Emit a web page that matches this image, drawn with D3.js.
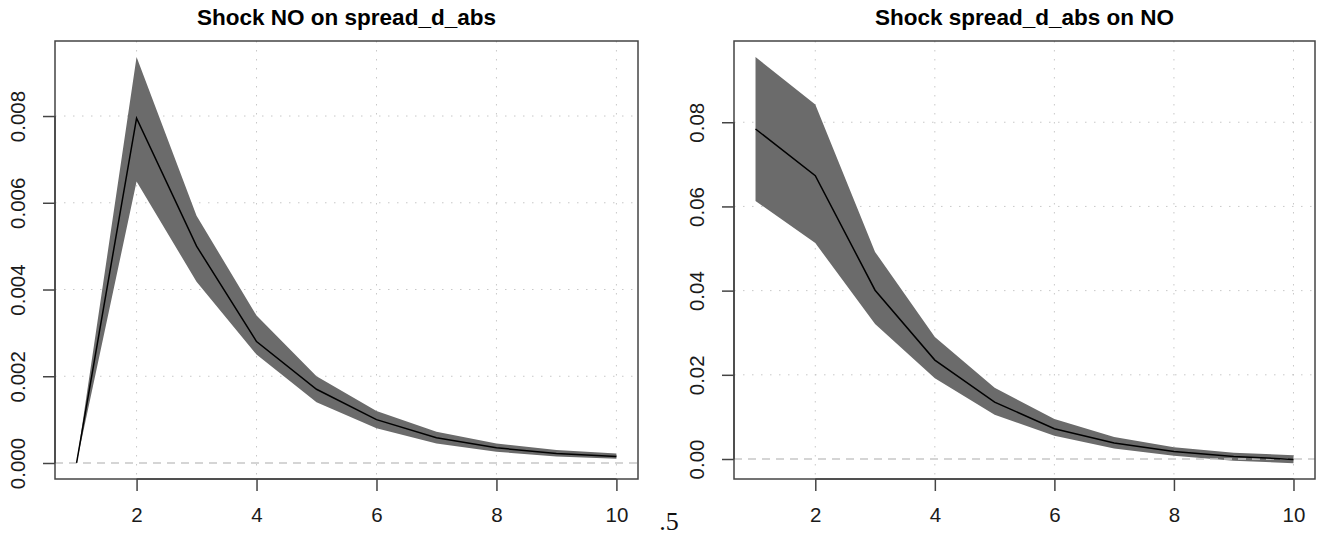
<!DOCTYPE html>
<html>
<head>
<meta charset="utf-8">
<script src="https://cdn.jsdelivr.net/npm/d3@7"></script>
<style>
  body { margin: 0; background: #fff; }
  svg { display: block; }
  .title { font-family: "Liberation Sans", Arial, sans-serif; font-weight: bold; font-size: 22.5px; }
  .tick-label { font-family: "Liberation Sans", Arial, sans-serif; font-size: 20.5px; fill: #1a1a1a; }
</style>
</head>
<body>
<svg id="chart"></svg>
<script>
const steps = [1, 2, 3, 4, 5, 6, 7, 8, 9, 10];

// Shock NO on spread_d_abs
const leftMid = [0, 0.00795, 0.0050, 0.0028, 0.0017, 0.0010, 0.00058, 0.00035, 0.00022, 0.00015];
const leftLower = [0, 0.00649, 0.00418, 0.0025, 0.0014, 0.0008, 0.00045, 0.00026, 0.00015, 0.0001];
const leftUpper = [0, 0.00936, 0.0057, 0.0034, 0.0020, 0.0012, 0.00072, 0.00045, 0.0003, 0.00022];
const leftYTicks = [0, 0.002, 0.004, 0.006, 0.008];

// Shock spread_d_abs on NO
const rightMid = [0.0784, 0.0673, 0.0401, 0.0235, 0.0135, 0.0072, 0.0038, 0.0018, 0.0006, -0.0001];
const rightLower = [0.0613, 0.0513, 0.0321, 0.0192, 0.0105, 0.0055, 0.0025, 0.0008, -0.0004, -0.0010];
const rightUpper = [0.0955, 0.0842, 0.0492, 0.029, 0.0169, 0.0095, 0.0052, 0.0028, 0.0015, 0.0009];
const rightYTicks = [0, 0.02, 0.04, 0.06, 0.08];

const xTicks = [2, 4, 6, 8, 10];

const width = 1325;
const height = 535;

const svg = d3.select("#chart").attr("width", width).attr("height", height);

function drawPanel(opts) {
  const { left, right, top, bottom, yDomain, mid, lower, upper, yTicks, yFormat, title, labelX } = opts;

  const x = d3.scaleLinear().domain([0.64, 10.36]).range([left, right]);
  const y = d3.scaleLinear().domain(yDomain).range([bottom, top]);

  const g = svg.append("g");

  // grid (dotted)
  g.selectAll(".vgrid")
    .data(xTicks)
    .enter()
    .append("line")
    .attr("x1", (d) => x(d))
    .attr("x2", (d) => x(d))
    .attr("y1", top)
    .attr("y2", bottom)
    .attr("stroke", "#c8c8c8")
    .attr("stroke-width", 1)
    .attr("stroke-dasharray", "1.5,7.5");

  g.selectAll(".hgrid")
    .data(yTicks.filter((d) => d !== 0))
    .enter()
    .append("line")
    .attr("x1", left)
    .attr("x2", right)
    .attr("y1", (d) => y(d))
    .attr("y2", (d) => y(d))
    .attr("stroke", "#c8c8c8")
    .attr("stroke-width", 1)
    .attr("stroke-dasharray", "1.5,7.5");

  // confidence band
  const band = d3
    .area()
    .x((d, i) => x(steps[i]))
    .y0((d, i) => y(lower[i]))
    .y1((d, i) => y(upper[i]));

  g.append("path").datum(mid).attr("d", band).attr("fill", "#6b6b6b");

  // zero line
  g.append("line")
    .attr("x1", left)
    .attr("x2", right)
    .attr("y1", y(0))
    .attr("y2", y(0))
    .attr("stroke", "#c8c8c8")
    .attr("stroke-width", 1.5)
    .attr("stroke-dasharray", "8,6");

  // response line
  const line = d3
    .line()
    .x((d, i) => x(steps[i]))
    .y((d) => y(d));

  g.append("path")
    .datum(mid)
    .attr("d", line)
    .attr("fill", "none")
    .attr("stroke", "#000")
    .attr("stroke-width", 1.5);

  // box
  g.append("rect")
    .attr("x", left)
    .attr("y", top)
    .attr("width", right - left)
    .attr("height", bottom - top)
    .attr("fill", "none")
    .attr("stroke", "#444")
    .attr("stroke-width", 1.5);

  // x axis
  const xAxis = d3.axisBottom(x).tickValues(xTicks).tickSize(12).tickPadding(16).tickFormat(d3.format("d"));
  const gx = g.append("g").attr("transform", `translate(0,${bottom})`).call(xAxis);
  gx.select(".domain")
    .attr("d", `M${x(xTicks[0])},0H${x(xTicks[xTicks.length - 1])}`)
    .attr("stroke", "#444")
    .attr("stroke-width", 1.5);
  gx.selectAll(".tick line").attr("stroke", "#444").attr("stroke-width", 1.5);
  gx.selectAll(".tick text")
    .attr("class", "tick-label")
    .attr("font-size", null)
    .attr("font-family", null)
    .attr("fill", "#1a1a1a");

  // y axis
  const yAxis = d3.axisLeft(y).tickValues(yTicks).tickSize(12).tickFormat(yFormat);
  const gy = g.append("g").attr("transform", `translate(${left},0)`).call(yAxis);
  gy.select(".domain")
    .attr("d", `M0,${y(yTicks[0])}V${y(yTicks[yTicks.length - 1])}`)
    .attr("stroke", "#444")
    .attr("stroke-width", 1.5);
  gy.selectAll(".tick line").attr("stroke", "#444").attr("stroke-width", 1.5);
  gy.selectAll(".tick text").remove();
  gy.selectAll(".tick")
    .append("text")
    .attr("class", "tick-label")
    .attr("transform", `translate(${labelX - left},0) rotate(-90)`)
    .attr("text-anchor", "middle")
    .attr("dy", "0.35em")
    .text(yFormat);

  // title
  svg.append("text")
    .attr("class", "title")
    .attr("x", (left + right) / 2)
    .attr("y", 25)
    .attr("text-anchor", "middle")
    .text(title);
}

drawPanel({
  left: 55,
  right: 638,
  top: 41,
  bottom: 479,
  yDomain: [-0.000369, 0.00973],
  mid: leftMid,
  lower: leftLower,
  upper: leftUpper,
  yTicks: leftYTicks,
  yFormat: d3.format(".3f"),
  title: "Shock NO on spread_d_abs",
  labelX: 18,
});

drawPanel({
  left: 734,
  right: 1315,
  top: 41,
  bottom: 479,
  yDomain: [-0.00475, 0.0993],
  mid: rightMid,
  lower: rightLower,
  upper: rightUpper,
  yTicks: rightYTicks,
  yFormat: d3.format(".2f"),
  title: "Shock spread_d_abs on NO",
  labelX: 697,
});

// stray text fragment present in the source image
svg.append("text")
  .attr("x", 669)
  .attr("y", 530)
  .attr("text-anchor", "middle")
  .attr("font-family", "Liberation Serif, Times New Roman, serif")
  .attr("font-size", 26)
  .attr("fill", "#111")
  .text(".5");
</script>
</body>
</html>
